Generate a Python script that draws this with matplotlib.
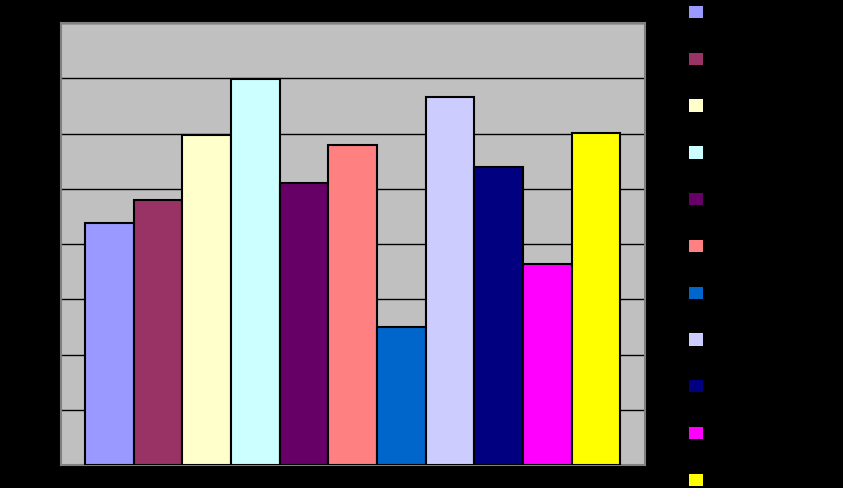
import numpy as np
import matplotlib.pyplot as plt
from matplotlib.patches import Patch

series = ['Series1', 'Series2', 'Series3', 'Series4', 'Series5', 'Series6',
          'Series7', 'Series8', 'Series9', 'Series10', 'Series11']
values = [4.38, 4.80, 5.97, 6.99, 5.10, 5.79, 2.50, 6.66, 5.39, 3.64, 6.01]
colors = ['#9999FF', '#993366', '#FFFFCC', '#CCFFFF', '#660066', '#FF8080',
          '#0066CC', '#CCCCFF', '#000080', '#FF00FF', '#FFFF00']
yticks = [0, 1, 2, 3, 4, 5, 6, 7, 8]

fig = plt.figure(figsize=(8.43, 4.88), dpi=100, facecolor='black')
ax = fig.add_axes([61 / 843, 23 / 488, 584 / 843, 442 / 488])
ax.set_facecolor('#C0C0C0')

x = np.arange(len(values))
bars = ax.bar(x, values, width=1.0, color=colors, edgecolor='black',
              linewidth=1.5, zorder=3)

ax.set_xlim(-0.994, 11.01)
ax.set_ylim(0, 8)
ax.set_yticks(yticks)
ax.set_xticks([])
ax.tick_params(length=0, colors='black', labelcolor='black')
ax.grid(axis='y', color='black', linewidth=1, zorder=1)
for s in ax.spines.values():
    s.set_color('#808080')
    s.set_linewidth(1.5)

handles = [Patch(facecolor=c, edgecolor='none') for c in colors]
leg = fig.legend(handles, series, loc='upper left',
                 bbox_to_anchor=(679 / 843, 1.008), frameon=False,
                 fontsize=10, handlelength=1.0, handleheight=1.0,
                 labelspacing=2.36, borderpad=0.2, handletextpad=0.8)
for t in leg.get_texts():
    t.set_color('black')

fig.savefig('out.png', dpi=100, facecolor='black')
